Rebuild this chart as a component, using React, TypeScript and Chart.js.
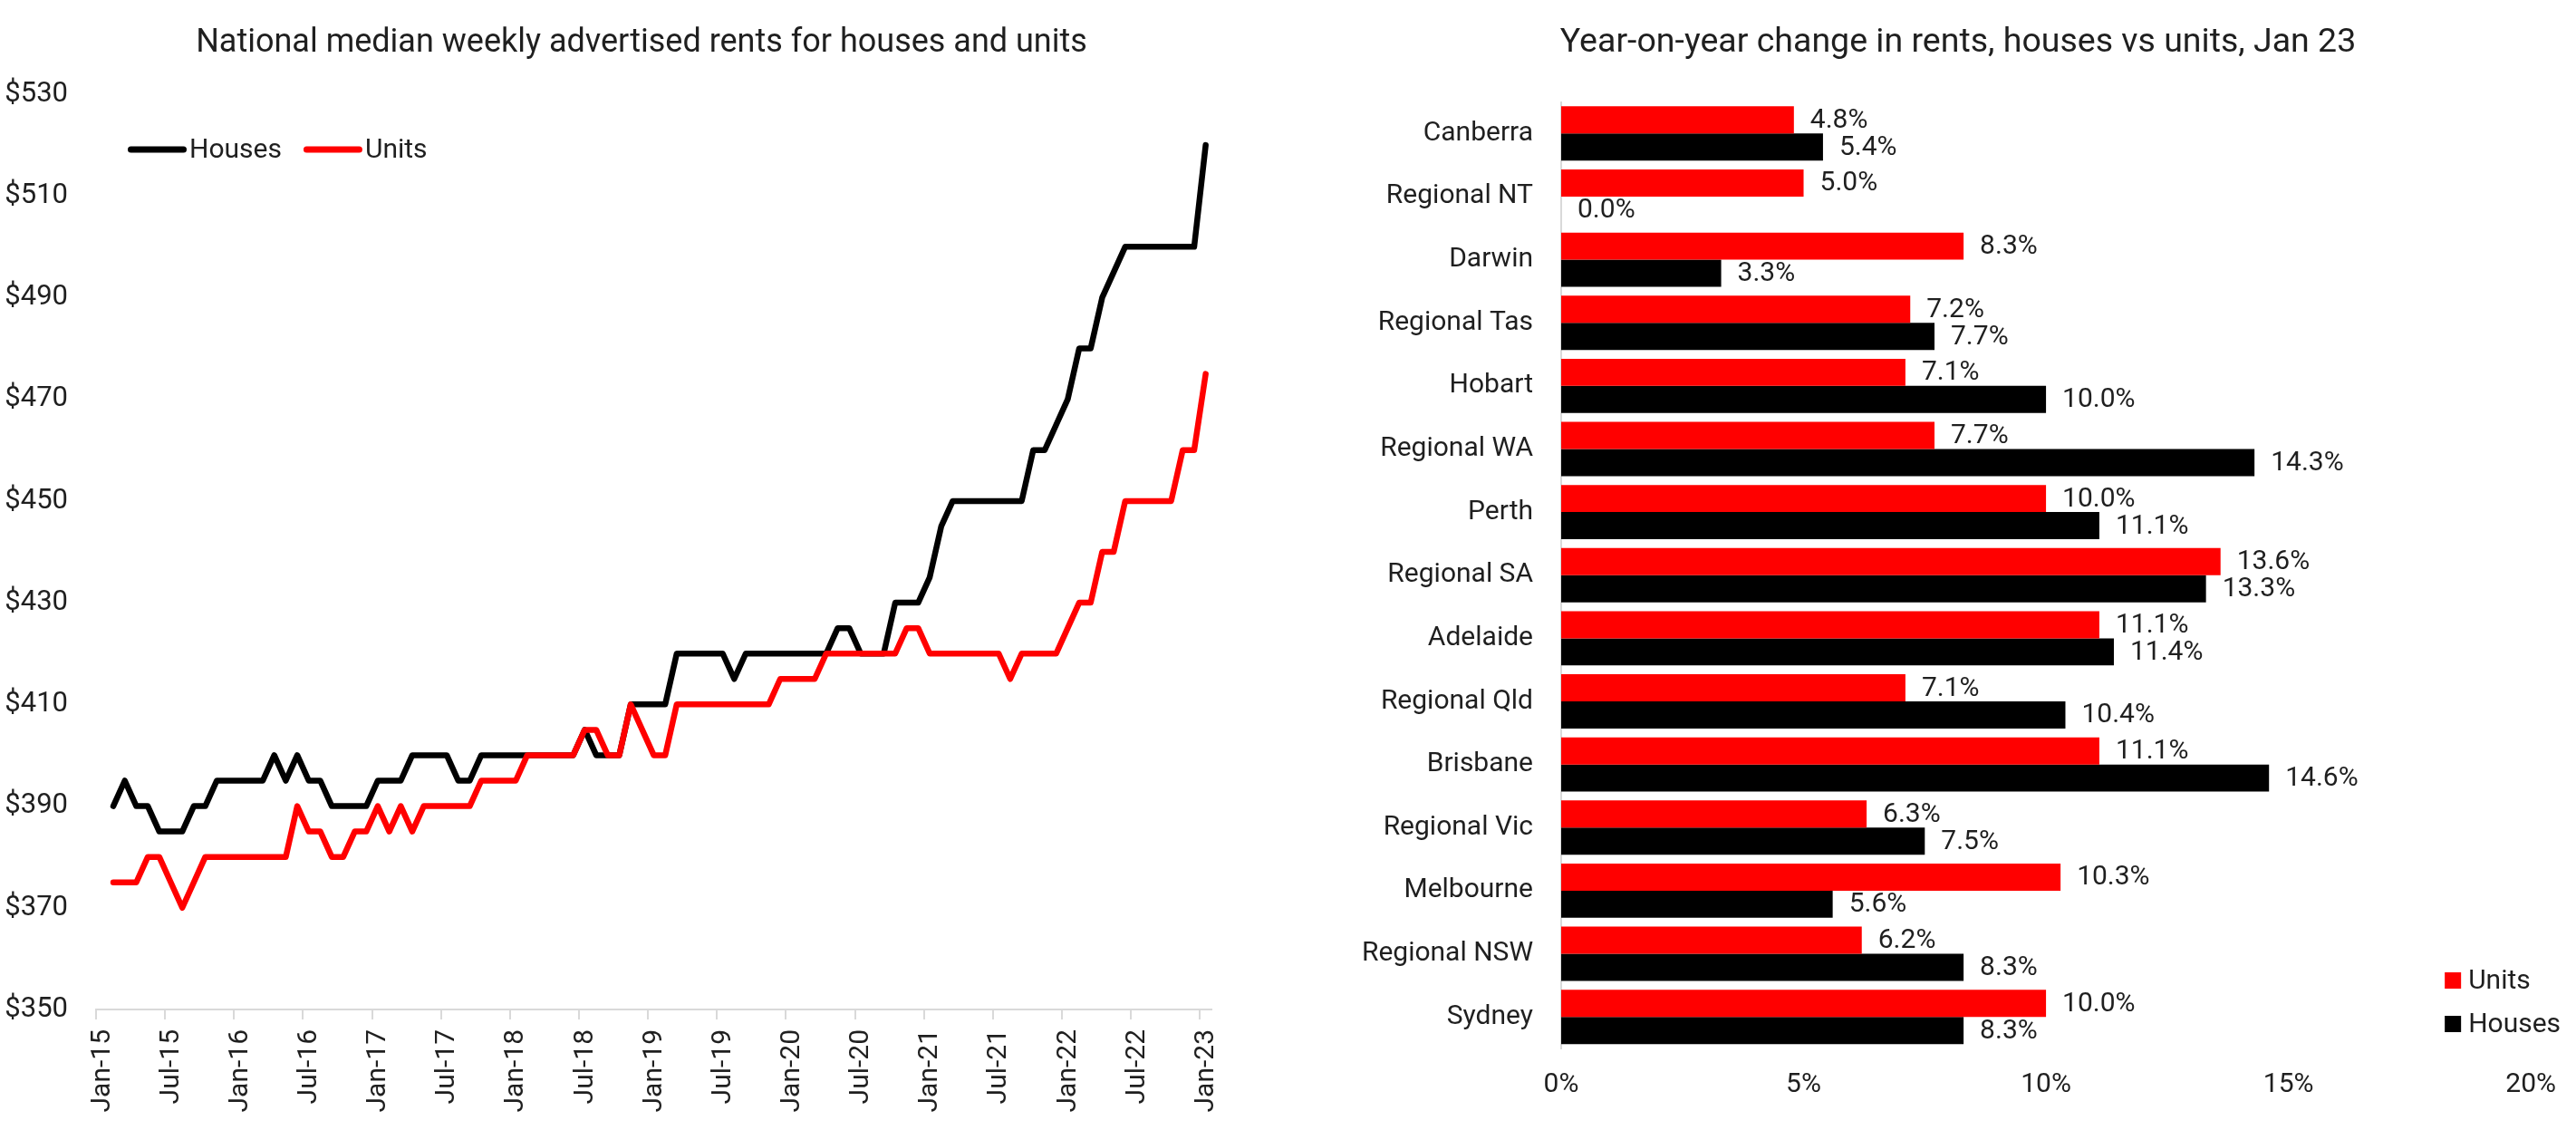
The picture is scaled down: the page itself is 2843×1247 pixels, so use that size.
import { useEffect, useRef } from 'react';
import { Chart, registerables } from 'chart.js';

Chart.register(...registerables);

const FONT_FAMILY = 'Roboto, "Noto Sans", sans-serif';
const TEXT_COLOR = '#1f1f1f';
const AXIS_GREY = '#d9d9d9';
const RED = '#ff0000';
const BLACK = '#000000';

// ---- National median weekly advertised rents ----
const xTickLabels = [
  'Jan-15', 'Jul-15', 'Jan-16', 'Jul-16', 'Jan-17', 'Jul-17', 'Jan-18', 'Jul-18', 'Jan-19',
  'Jul-19', 'Jan-20', 'Jul-20', 'Jan-21', 'Jul-21', 'Jan-22', 'Jul-22', 'Jan-23',
];
const yTickValues = [350, 370, 390, 410, 430, 450, 470, 490, 510, 530];

// monthly series, Feb-15 .. Jan-23
const FIRST_MONTH = 1; // months after Jan-15
const houseRents = [
  390, 395, 390, 390, 385, 385, 385, 390, 390, 395,
  395, 395, 395, 395, 400, 395, 400, 395, 395, 390,
  390, 390, 390, 395, 395, 395, 400, 400, 400, 400,
  395, 395, 400, 400, 400, 400, 400, 400, 400, 400,
  400, 405, 400, 400, 400, 410, 410, 410, 410, 420,
  420, 420, 420, 420, 415, 420, 420, 420, 420, 420,
  420, 420, 420, 425, 425, 420, 420, 420, 430, 430,
  430, 435, 445, 450, 450, 450, 450, 450, 450, 450,
  460, 460, 465, 470, 480, 480, 490, 495, 500, 500,
  500, 500, 500, 500, 500, 520,
];
const unitRents = [
  375, 375, 375, 380, 380, 375, 370, 375, 380, 380,
  380, 380, 380, 380, 380, 380, 390, 385, 385, 380,
  380, 385, 385, 390, 385, 390, 385, 390, 390, 390,
  390, 390, 395, 395, 395, 395, 400, 400, 400, 400,
  400, 405, 405, 400, 400, 410, 405, 400, 400, 410,
  410, 410, 410, 410, 410, 410, 410, 410, 415, 415,
  415, 415, 420, 420, 420, 420, 420, 420, 420, 425,
  425, 420, 420, 420, 420, 420, 420, 420, 415, 420,
  420, 420, 420, 425, 430, 430, 440, 440, 450, 450,
  450, 450, 450, 460, 460, 475,
];

// ---- Year-on-year change, Jan 23 ----
const regions = [
  'Canberra', 'Regional NT', 'Darwin', 'Regional Tas', 'Hobart', 'Regional WA', 'Perth',
  'Regional SA', 'Adelaide', 'Regional Qld', 'Brisbane', 'Regional Vic', 'Melbourne',
  'Regional NSW', 'Sydney',
];
const unitsChange = [4.8, 5.0, 8.3, 7.2, 7.1, 7.7, 10.0, 13.6, 11.1, 7.1, 11.1, 6.3, 10.3, 6.2, 10.0];
const housesChange = [5.4, 0.0, 3.3, 7.7, 10.0, 14.3, 11.1, 13.3, 11.4, 10.4, 14.6, 7.5, 5.6, 8.3, 8.3];
const xPercentTicks = [0, 5, 10, 15, 20];

const labelFont = { family: FONT_FAMILY, size: 30 };

// title drawn at a fixed centre so it lines up with the original
const centeredTitle = {
  id: 'centeredTitle',
  afterDraw(chart: any, _args: any, opts: any) {
    const { ctx } = chart;
    ctx.save();
    ctx.font = `${opts.size}px ${FONT_FAMILY}`;
    ctx.fillStyle = TEXT_COLOR;
    ctx.textAlign = 'center';
    ctx.textBaseline = 'alphabetic';
    ctx.fillText(opts.text, opts.x, opts.baseline);
    ctx.restore();
  },
};

// legend drawn inside the plot, top-left (line samples)
const lineLegend = {
  id: 'lineLegend',
  afterDraw(chart: any) {
    const { ctx, chartArea } = chart;
    ctx.save();
    ctx.font = `30px ${FONT_FAMILY}`;
    ctx.textBaseline = 'middle';
    ctx.lineCap = 'round';
    ctx.lineWidth = 7;
    let x = chartArea.left + 38.5;
    const y = chartArea.top + 61;
    chart.data.datasets.forEach((ds: any) => {
      ctx.strokeStyle = ds.borderColor;
      ctx.beginPath();
      ctx.moveTo(x, y);
      ctx.lineTo(x + 58, y);
      ctx.stroke();
      ctx.fillStyle = TEXT_COLOR;
      ctx.fillText(ds.label, x + 64.5, y + 1);
      x += 64.5 + ctx.measureText(ds.label).width + 27.5;
    });
    ctx.restore();
  },
};

// value labels at the bar ends
const barValueLabels = {
  id: 'barValueLabels',
  afterDatasetsDraw(chart: any) {
    const { ctx } = chart;
    ctx.save();
    ctx.font = `30px ${FONT_FAMILY}`;
    ctx.fillStyle = TEXT_COLOR;
    ctx.textBaseline = 'middle';
    ctx.textAlign = 'left';
    chart.data.datasets.forEach((ds: any, i: number) => {
      chart.getDatasetMeta(i).data.forEach((bar: any, j: number) => {
        ctx.fillText(`${Number(ds.data[j]).toFixed(1)}%`, bar.x + 18, bar.y + 1);
      });
    });
    ctx.restore();
  },
};

// square-marker legend, bottom right
const squareLegend = {
  id: 'squareLegend',
  afterDraw(chart: any) {
    const { ctx, chartArea } = chart;
    ctx.save();
    ctx.font = `30px ${FONT_FAMILY}`;
    ctx.textBaseline = 'middle';
    const x = chartArea.right - 95;
    chart.data.datasets.forEach((ds: any, i: number) => {
      const y = chartArea.bottom - 75 + i * 48;
      ctx.fillStyle = ds.backgroundColor;
      ctx.fillRect(x, y - 9, 18, 18);
      ctx.fillStyle = TEXT_COLOR;
      ctx.fillText(ds.label, x + 26, y + 1);
    });
    ctx.restore();
  },
};

function RentsChart() {
  const canvasRef = useRef<HTMLCanvasElement | null>(null);

  useEffect(() => {
    if (!canvasRef.current) return;
    const toPoints = (values: number[]) =>
      values.map((v, i) => ({ x: FIRST_MONTH + i + 0.5, y: v }));

    const chart = new Chart(canvasRef.current, {
      type: 'line',
      data: {
        datasets: [
          {
            label: 'Houses',
            data: toPoints(houseRents),
            borderColor: BLACK,
            borderWidth: 6.5,
            borderCapStyle: 'round',
            borderJoinStyle: 'round',
            pointRadius: 0,
            tension: 0,
            order: 1,
          },
          {
            label: 'Units',
            data: toPoints(unitRents),
            borderColor: RED,
            borderWidth: 6.5,
            borderCapStyle: 'round',
            borderJoinStyle: 'round',
            pointRadius: 0,
            tension: 0,
            order: 0,
          },
        ],
      },
      options: {
        animation: false,
        responsive: true,
        maintainAspectRatio: false,
        layout: { padding: { left: 0, right: 83, top: 104, bottom: 0 } },
        plugins: {
          legend: { display: false },
          tooltip: { enabled: false },
          title: { display: false },
          centeredTitle: {
            text: 'National median weekly advertised rents for houses and units',
            x: 708,
            baseline: 57,
            size: 36,
          },
        } as any,
        scales: {
          x: {
            type: 'linear',
            min: 0,
            max: 97,
            afterBuildTicks: (scale: any) => {
              scale.ticks = xTickLabels.map((_, i) => ({ value: i * 6 }));
            },
            afterFit: (scale: any) => {
              scale.height = 133;
            },
            ticks: {
              autoSkip: false,
              minRotation: 90,
              maxRotation: 90,
              padding: 11,
              labelOffset: 7,
              color: TEXT_COLOR,
              font: { family: FONT_FAMILY, size: 30 },
              callback: (_v: any, index: number) => xTickLabels[index],
            },
            grid: {
              display: true,
              drawOnChartArea: false,
              drawTicks: true,
              tickLength: 11,
              color: AXIS_GREY,
              lineWidth: 2,
            },
            border: { display: true, color: AXIS_GREY, width: 2 },
          },
          y: {
            min: yTickValues[0],
            max: yTickValues[yTickValues.length - 1],
            afterBuildTicks: (scale: any) => {
              scale.ticks = yTickValues.map((v) => ({ value: v }));
            },
            afterFit: (scale: any) => {
              scale.width = 106;
            },
            ticks: {
              padding: 31,
              color: TEXT_COLOR,
              font: { family: FONT_FAMILY, size: 31 },
              callback: (v: any) => `$${v}`,
            },
            grid: { display: false, drawTicks: false },
            border: { display: false },
          },
        },
      },
      plugins: [lineLegend, centeredTitle],
    });

    return () => chart.destroy();
  }, []);

  return (
    <div style={{ position: 'absolute', left: 0, top: 0, width: 1420, height: 1247 }}>
      <canvas ref={canvasRef} />
    </div>
  );
}

function ChangeChart() {
  const canvasRef = useRef<HTMLCanvasElement | null>(null);

  useEffect(() => {
    if (!canvasRef.current) return;

    const chart = new Chart(canvasRef.current, {
      type: 'bar',
      data: {
        labels: regions,
        datasets: [
          {
            label: 'Units',
            data: unitsChange,
            backgroundColor: RED,
            categoryPercentage: 0.86,
            barPercentage: 1,
          },
          {
            label: 'Houses',
            data: housesChange,
            backgroundColor: BLACK,
            categoryPercentage: 0.86,
            barPercentage: 1,
          },
        ],
      },
      options: {
        indexAxis: 'y',
        animation: false,
        responsive: true,
        maintainAspectRatio: false,
        layout: { padding: { left: 0, right: 42, top: 112.5, bottom: 0 } },
        plugins: {
          legend: { display: false },
          tooltip: { enabled: false },
          title: { display: false },
          centeredTitle: {
            text: 'Year-on-year change in rents, houses vs units, Jan 23',
            x: 721,
            baseline: 57,
            size: 37.5,
          },
        } as any,
        scales: {
          x: {
            min: xPercentTicks[0],
            max: xPercentTicks[xPercentTicks.length - 1],
            afterBuildTicks: (scale: any) => {
              scale.ticks = xPercentTicks.map((v) => ({ value: v }));
            },
            afterFit: (scale: any) => {
              scale.height = 90;
            },
            ticks: {
              padding: 22,
              color: TEXT_COLOR,
              font: labelFont,
              callback: (v: any) => `${v}%`,
            },
            grid: { display: false, drawTicks: false },
            border: { display: false },
          },
          y: {
            afterFit: (scale: any) => {
              scale.width = 283;
            },
            ticks: {
              padding: 31,
              color: TEXT_COLOR,
              font: labelFont,
            },
            grid: { display: false, drawTicks: false },
            border: { display: true, color: AXIS_GREY, width: 2 },
          },
        },
      },
      plugins: [barValueLabels, squareLegend, centeredTitle],
    });

    return () => chart.destroy();
  }, []);

  return (
    <div style={{ position: 'absolute', left: 1440, top: 0, width: 1403, height: 1247 }}>
      <canvas ref={canvasRef} />
    </div>
  );
}

export default function App() {
  return (
    <div
      style={{
        position: 'absolute',
        left: 0,
        top: 0,
        width: 2843,
        height: 1247,
        background: '#ffffff',
        overflow: 'hidden',
      }}
    >
      <RentsChart />
      <ChangeChart />
    </div>
  );
}
